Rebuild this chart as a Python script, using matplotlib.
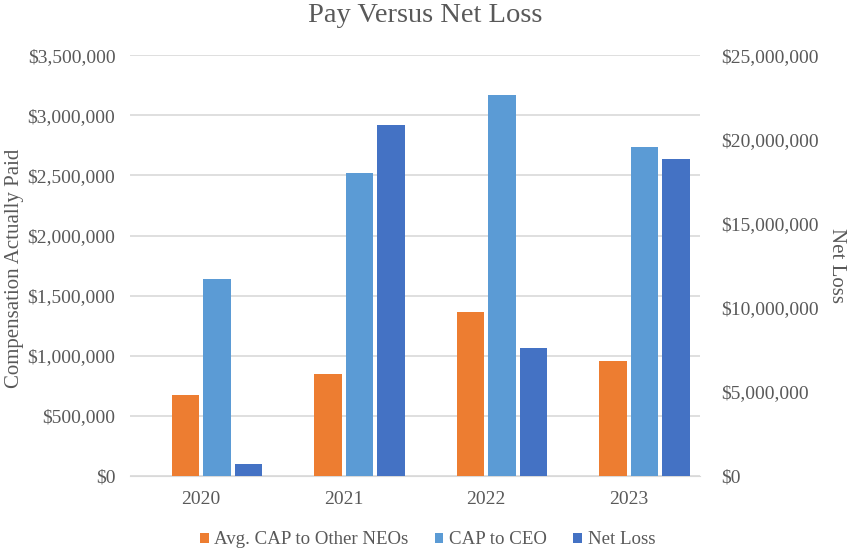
import numpy as np
import matplotlib
matplotlib.use("Agg")
from matplotlib import pyplot as plt
from matplotlib.ticker import FuncFormatter

# data
years = ["2020", "2021", "2022", "2023"]
cap_other_neos = [671000, 851000, 1362000, 957000]
cap_ceo = [1641000, 2520000, 3167000, 2737000]
net_loss = [695000, 20860000, 7590000, 18820000]

plt.rcParams['font.family'] = ['Liberation Serif', 'DejaVu Serif']
grey = '#595959'

fig = plt.figure(figsize=(8.5, 5.52), dpi=100)
ax = fig.add_axes([0.1529, 0.1377, 0.6706, 0.7623])
ax2 = ax.twinx()

x = np.arange(len(years))
w = 0.195
p1 = ax.bar(x - 0.110, cap_other_neos, w, color='#ED7D31', zorder=3)
p2 = ax.bar(x + 0.110, cap_ceo, w, color='#5B9BD5', zorder=3)
p3 = ax2.bar(x + 0.332, net_loss, w, color='#4472C4', zorder=3)

ax.set_xlim(-0.5, 3.5)
ax.set_ylim(0, 3500000)
ax2.set_ylim(0, 25000000)
ax.set_yticks(np.arange(0, 3500001, 500000))
ax2.set_yticks(np.arange(0, 25000001, 5000000))
money = FuncFormatter(lambda v, p: "${:,.0f}".format(v))
ax.yaxis.set_major_formatter(money)
ax2.yaxis.set_major_formatter(money)
ax.set_xticks(x)
ax.set_xticklabels(years)

ax.grid(axis='y', color='#d9d9d9', linewidth=1.2, zorder=0)
for a in (ax, ax2):
    for s in a.spines.values():
        s.set_visible(False)
    a.tick_params(length=0, labelsize=14, colors=grey)
ax.spines['bottom'].set_visible(True)
ax.spines['bottom'].set_color('#d9d9d9')
ax.tick_params(axis='y', pad=10.5)
ax2.tick_params(axis='y', pad=15.5)
ax.tick_params(axis='x', pad=10.5)

fig.text(15 / 850, 1 - 268 / 552, "Compensation Actually Paid", rotation=90,
         ha='center', va='center', fontsize=15, color=grey)
fig.text(837 / 850, 1 - 265 / 552, "Net Loss", rotation=270,
         ha='center', va='center', fontsize=15, color=grey)
fig.text(0.5, 1 - 15 / 552, "Pay Versus Net Loss", ha='center', va='center',
         fontsize=20.5, color=grey)

fig.legend([p1, p2, p3], ["Avg. CAP to Other NEOs", "CAP to CEO", "Net Loss"],
           loc='center', bbox_to_anchor=(0.503, 1 - 540 / 552), ncol=3, frameon=False,
           fontsize=13.6, labelcolor=grey, handlelength=0.45, handleheight=0.45,
           handletextpad=0.3, columnspacing=1.4, borderpad=0)

fig.savefig("out.png", dpi=100)
